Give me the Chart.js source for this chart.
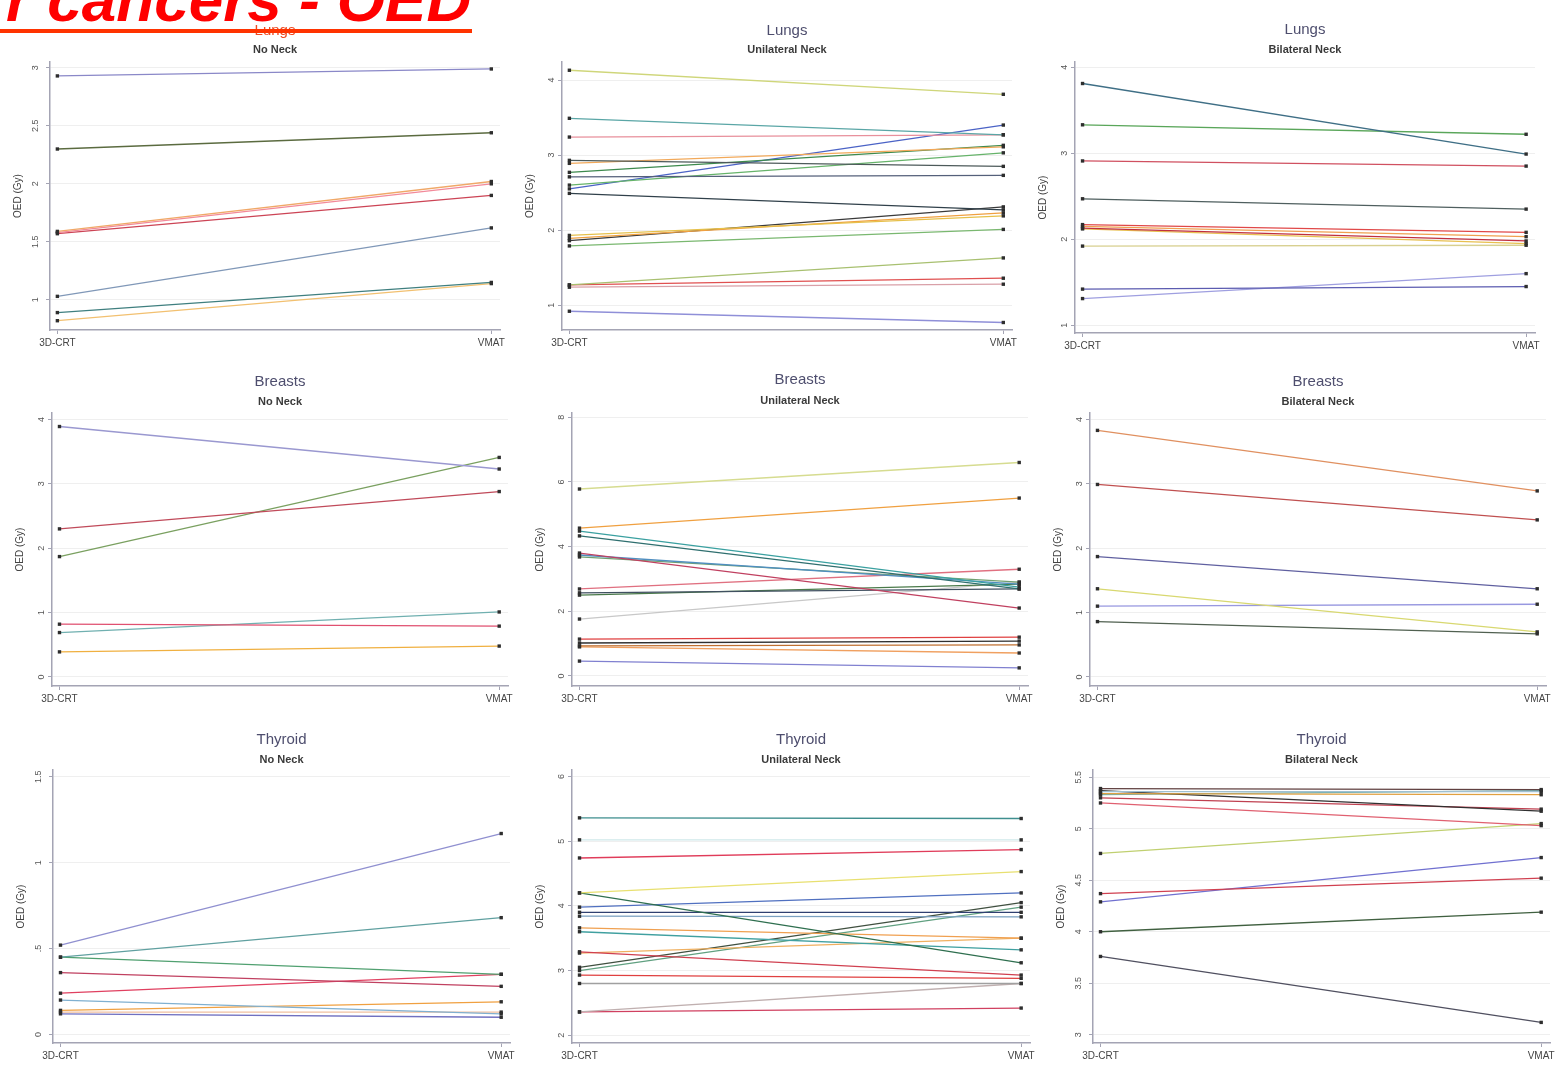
<!DOCTYPE html>
<html>
<head>
<meta charset="utf-8">
<script src="https://cdn.jsdelivr.net/npm/chart.js@4.4.1/dist/chart.umd.min.js"></script>
<style>
  html, body { margin: 0; padding: 0; background: #fff; width: 1562px; height: 1066px; overflow: hidden; position: relative; }
  #heading { position: absolute; left: 6px; top: -31px; font: italic bold 62px "Liberation Sans", Arial, sans-serif; line-height: 62px; color: #ff0000; white-space: nowrap; z-index: 2; }
  #rule { position: absolute; left: 0; top: 29px; width: 472px; height: 4px; background: #ff3300; z-index: 3; }
  canvas { position: absolute; }
</style>
</head>
<body>
<div id="heading">r cancers - OED</div>
<div id="rule"></div>
<script>
// Paired OED values (Gy) per patient: 3D-CRT plan vs VMAT plan
const categories = ['3D-CRT', 'VMAT'];
const organs = ['Lungs', 'Lungs', 'Lungs', 'Breasts', 'Breasts', 'Breasts', 'Thyroid', 'Thyroid', 'Thyroid'];
const neckTypes = ['No Neck', 'Unilateral Neck', 'Bilateral Neck', 'No Neck', 'Unilateral Neck', 'Bilateral Neck', 'No Neck', 'Unilateral Neck', 'Bilateral Neck'];
const yAxisTitle = 'OED (Gy)';

const lungsNoNeck3D   = [2.93, 2.30, 1.59, 1.58, 1.57, 1.03, 0.89, 0.82];
const lungsNoNeckVMAT = [2.99, 2.44, 2.02, 2.00, 1.90, 1.62, 1.15, 1.14];
const lungsNoNeckTicks = [1, 1.5, 2, 2.5, 3];
const lungsNoNeckTickLabels = ['1', '1.5', '2', '2.5', '3'];

const lungsUni3D   = [4.13, 3.49, 3.24, 2.93, 2.89, 2.77, 2.71, 2.60, 2.55, 2.49, 1.93, 1.89, 1.86, 1.79, 1.27, 1.27, 1.24, 0.92];
const lungsUniVMAT = [3.81, 3.27, 3.27, 2.85, 3.11, 3.13, 2.73, 3.03, 3.40, 2.27, 2.19, 2.23, 2.31, 2.01, 1.63, 1.36, 1.28, 0.77];
const lungsUniTicks = [1, 2, 3, 4];
const lungsUniTickLabels = ['1', '2', '3', '4'];

const lungsBi3D   = [3.81, 3.33, 2.91, 2.47, 2.17, 2.15, 2.13, 2.12, 1.92, 1.42, 1.31];
const lungsBiVMAT = [2.99, 3.22, 2.85, 2.35, 2.08, 2.03, 1.98, 1.95, 1.93, 1.45, 1.60];
const lungsBiTicks = [1, 2, 3, 4];
const lungsBiTickLabels = ['1', '2', '3', '4'];

const breastsNoNeck3D   = [3.89, 2.30, 1.87, 0.82, 0.69, 0.39];
const breastsNoNeckVMAT = [3.23, 2.88, 3.41, 0.79, 1.01, 0.48];
const breastsNoNeckTicks = [0, 1, 2, 3, 4];
const breastsNoNeckTickLabels = ['0', '1', '2', '3', '4'];

const breastsUni3D   = [5.78, 4.57, 4.48, 4.33, 3.80, 3.74, 3.68, 2.69, 2.57, 2.50, 1.76, 1.14, 1.02, 0.93, 0.90, 0.46];
const breastsUniVMAT = [6.60, 5.50, 2.75, 2.69, 2.10, 2.84, 2.90, 3.30, 2.69, 2.84, 2.90, 1.20, 1.08, 0.96, 0.71, 0.25];
const breastsUniTicks = [0, 2, 4, 6, 8];
const breastsUniTickLabels = ['0', '2', '4', '6', '8'];

const breastsBi3D   = [3.83, 2.99, 1.87, 1.37, 1.10, 0.86];
const breastsBiVMAT = [2.89, 2.44, 1.37, 0.70, 1.13, 0.67];
const breastsBiTicks = [0, 1, 2, 3, 4];
const breastsBiTickLabels = ['0', '1', '2', '3', '4'];

const thyroidNoNeck3D   = [0.52, 0.45, 0.45, 0.36, 0.24, 0.20, 0.14, 0.12, 0.13];
const thyroidNoNeckVMAT = [1.17, 0.68, 0.35, 0.28, 0.35, 0.12, 0.19, 0.10, 0.13];
const thyroidNoNeckTicks = [0, 0.5, 1, 1.5];
const thyroidNoNeckTickLabels = ['0', '.5', '1', '1.5'];

const thyroidUni3D   = [5.36, 5.02, 4.74, 4.20, 4.20, 3.98, 3.90, 3.84, 3.66, 3.60, 3.29, 3.27, 3.05, 3.00, 2.93, 2.80, 2.36, 2.36];
const thyroidUniVMAT = [5.35, 5.02, 4.87, 4.53, 3.12, 4.20, 3.90, 3.83, 3.50, 3.32, 2.93, 3.50, 4.05, 3.98, 2.88, 2.80, 2.80, 2.42];
const thyroidUniTicks = [2, 3, 4, 5, 6];
const thyroidUniTickLabels = ['2', '3', '4', '5', '6'];

const thyroidBi3D   = [5.39, 5.36, 5.34, 5.37, 5.30, 5.25, 5.33, 4.76, 4.37, 4.29, 4.00, 3.76];
const thyroidBiVMAT = [5.38, 5.36, 5.33, 5.17, 5.19, 5.03, 5.37, 5.05, 4.52, 4.72, 4.19, 3.12];
const thyroidBiTicks = [3, 3.5, 4, 4.5, 5, 5.5];
const thyroidBiTickLabels = ['3', '3.5', '4', '4.5', '5', '5.5'];

const FONT = '"Liberation Sans", Arial, sans-serif';

// One entry per panel: data, y range, placement and line colours
const panels = [
  { before: lungsNoNeck3D, after: lungsNoNeckVMAT, ticks: lungsNoNeckTicks, labels: lungsNoNeckTickLabels, yMin: 0.74, yMax: 3.05,
    box: { axisX: 50, plotRight: 500, titleY: 31, subY: 50, plotTop: 62, plotBottom: 330 }, titleColor: '#ee4a22',
    colors: ['#8a88c8', '#5b6b40', '#f0a868', '#f28a9a', '#cc4455', '#8098b8', '#3f7f7f', '#f2c070'] },
  { before: lungsUni3D, after: lungsUniVMAT, ticks: lungsUniTicks, labels: lungsUniTickLabels, yMin: 0.67, yMax: 4.24,
    box: { axisX: 562, plotRight: 1012, titleY: 31, subY: 50, plotTop: 62, plotBottom: 330 },
    colors: ['#cfd67a', '#5aa6a6', '#e8909c', '#4d5a5a', '#f2a95a', '#3d8a4d', '#55607a', '#66b36a', '#4b63c6', '#30404a', '#e6c04a', '#f0a040', '#3a3a3a', '#7ab870', '#a8c070', '#e05050', '#d9a0a8', '#8f8fd8'] },
  { before: lungsBi3D, after: lungsBiVMAT, ticks: lungsBiTicks, labels: lungsBiTickLabels, yMin: 0.91, yMax: 4.06,
    box: { axisX: 1075, plotRight: 1535, titleY: 30, subY: 50, plotTop: 62, plotBottom: 333 },
    colors: ['#3f6f86', '#5aa65a', '#d05060', '#4f5f5f', '#e04848', '#f0a050', '#c03040', '#e8c050', '#d8d090', '#5b5bb0', '#9f9fe0'] },
  { before: breastsNoNeck3D, after: breastsNoNeckVMAT, ticks: breastsNoNeckTicks, labels: breastsNoNeckTickLabels, yMin: -0.14, yMax: 4.1,
    box: { axisX: 52, plotRight: 508, titleY: 382, subY: 402, plotTop: 413, plotBottom: 686 },
    colors: ['#9a98d0', '#c04a5a', '#7aa060', '#e05070', '#70b0b0', '#f0b040'] },
  { before: breastsUni3D, after: breastsUniVMAT, ticks: breastsUniTicks, labels: breastsUniTickLabels, yMin: -0.31, yMax: 8.13,
    box: { axisX: 572, plotRight: 1028, titleY: 380, subY: 401, plotTop: 413, plotBottom: 686 },
    colors: ['#d6dc90', '#f0a040', '#3aa0a0', '#2f6f6f', '#c04060', '#508fc0', '#70a070', '#e07080', '#405060', '#4a7a4a', '#c8c8c8', '#e04040', '#303030', '#c07030', '#f0a060', '#8080d0'] },
  { before: breastsBi3D, after: breastsBiVMAT, ticks: breastsBiTicks, labels: breastsBiTickLabels, yMin: -0.14, yMax: 4.1,
    box: { axisX: 1090, plotRight: 1546, titleY: 382, subY: 402, plotTop: 413, plotBottom: 686 },
    colors: ['#e09060', '#c05050', '#6060a0', '#d8d870', '#9898e0', '#506050'] },
  { before: thyroidNoNeck3D, after: thyroidNoNeckVMAT, ticks: thyroidNoNeckTicks, labels: thyroidNoNeckTickLabels, yMin: -0.05, yMax: 1.54,
    box: { axisX: 53, plotRight: 510, titleY: 740, subY: 760, plotTop: 770, plotBottom: 1043 },
    colors: ['#9090d0', '#60a0a0', '#50a070', '#c04060', '#e04060', '#80b0d0', '#f0a040', '#7070c0', '#f0c0a0'] },
  { before: thyroidUni3D, after: thyroidUniVMAT, ticks: thyroidUniTicks, labels: thyroidUniTickLabels, yMin: 1.88, yMax: 6.1,
    box: { axisX: 572, plotRight: 1030, titleY: 740, subY: 760, plotTop: 770, plotBottom: 1043 },
    colors: ['#3f8f8f', '#cfe8ea', '#e03c5a', '#e8e070', '#2f6f4f', '#5070c0', '#304070', '#7aa0c0', '#f0a050', '#40a0a0', '#d04050', '#f0b060', '#405040', '#60a080', '#e04040', '#a0a0a0', '#c0b0b0', '#d04060'] },
  { before: thyroidBi3D, after: thyroidBiVMAT, ticks: thyroidBiTicks, labels: thyroidBiTickLabels, yMin: 2.92, yMax: 5.57,
    box: { axisX: 1093, plotRight: 1550, titleY: 740, subY: 760, plotTop: 770, plotBottom: 1043 },
    colors: ['#604040', '#a0c0d0', '#e0a040', '#303030', '#c04050', '#e06070', '#70b0b0', '#c0d070', '#d04050', '#7070d0', '#406040', '#505060'] }
];

const AXIS = '#a4a4b4';
const SIDE = 50;      // room for the y axis
const RIGHT = 30;     // room for the right-hand category label
const XAXIS_H = 26;   // height reserved for the category labels

function buildPanel(p, idx) {
  const g = p.box;
  const canvas = document.createElement('canvas');
  const w = g.plotRight - g.axisX + SIDE + RIGHT;
  const top = g.titleY - 9;
  const h = g.plotBottom - top + XAXIS_H;
  canvas.width = w; canvas.height = h;
  canvas.style.width = w + 'px'; canvas.style.height = h + 'px';
  canvas.style.left = (g.axisX - SIDE) + 'px';
  canvas.style.top = top + 'px';
  document.body.appendChild(canvas);

  const datasets = p.before.map((v, i) => ({
    data: categories.map((c, k) => ({ x: k, y: k === 0 ? v : p.after[i] })),
    borderColor: p.colors[i % p.colors.length],
    borderWidth: 1.3,
    pointStyle: 'rect',
    pointRadius: 2.4,
    pointBorderWidth: 0,
    pointBackgroundColor: '#2e2e2e',
    pointBorderColor: '#2e2e2e',
    tension: 0
  }));

  new Chart(canvas, {
    type: 'line',
    data: { datasets },
    options: {
      responsive: false,
      animation: false,
      events: [],
      layout: { padding: { left: 0, right: RIGHT, top: 0, bottom: 0 } },
      plugins: {
        legend: { display: false },
        tooltip: { enabled: false },
        title: {
          display: true, fullSize: false, text: organs[idx], color: p.titleColor || '#4e4e6e',
          font: { family: FONT, size: 15, weight: 'normal', lineHeight: 1.2 },
          padding: { top: 0, bottom: g.subY - g.titleY - 15.6 }
        },
        subtitle: {
          display: true, fullSize: false, text: neckTypes[idx], color: '#3a3a3a',
          font: { family: FONT, size: 11, weight: 'bold', lineHeight: 1.2 },
          padding: { top: 0, bottom: g.plotTop - g.subY - 6.6 }
        }
      },
      scales: {
        x: {
          type: 'linear', min: -0.017, max: 1.02,
          afterBuildTicks: s => { s.ticks = categories.map((c, k) => ({ value: k })); },
          afterFit: s => { s.height = XAXIS_H; },
          ticks: {
            callback: v => categories[v],
            color: '#444', font: { family: FONT, size: 10 },
            padding: 3, maxRotation: 0, minRotation: 0, autoSkip: false
          },
          grid: { drawOnChartArea: false, drawTicks: true, tickLength: 4, color: AXIS },
          border: { display: true, color: AXIS, width: 1.5 }
        },
        y: {
          type: 'linear', min: p.yMin, max: p.yMax,
          afterBuildTicks: s => { s.ticks = p.ticks.map(v => ({ value: v })); },
          afterFit: s => { s.width = SIDE; },
          ticks: {
            callback: v => p.labels[p.ticks.indexOf(v)],
            color: '#555', font: { family: FONT, size: 9 },
            minRotation: 90, maxRotation: 90, crossAlign: 'center', padding: 4, autoSkip: false
          },
          grid: { color: '#efefef', lineWidth: 1, tickLength: 4, tickColor: AXIS },
          border: { display: true, color: AXIS, width: 1.5 },
          title: {
            display: true, text: yAxisTitle, color: '#444',
            font: { family: FONT, size: 10, lineHeight: 1.2 },
            padding: { top: 12, bottom: 0 }
          }
        }
      }
    }
  });
}

panels.forEach(buildPanel);
</script>
</body>
</html>
